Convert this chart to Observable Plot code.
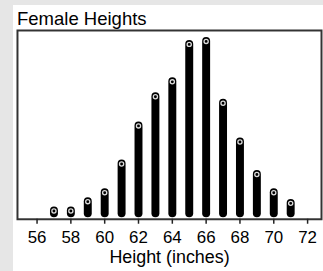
<!DOCTYPE html>
<html>
<head>
<meta charset="utf-8">
<script src="https://cdn.jsdelivr.net/npm/d3@7"></script>
<script src="https://cdn.jsdelivr.net/npm/@observablehq/plot@0.6"></script>
<style>
  html, body { margin: 0; padding: 0; overflow: hidden; }
  body { width: 323px; height: 271px; background: #e6e6e6; position: relative; font-family: "Liberation Sans", Arial, sans-serif; }
  #panel { position: absolute; left: 13px; top: 5px; width: 310px; height: 266px; background: #fff; overflow: hidden; }
  #title { position: absolute; left: 4px; top: 4px; font-size: 18.5px; line-height: 20px; color: #000; white-space: nowrap; }
  #chart { position: absolute; left: 0; top: 24px; }
</style>
</head>
<body>
<div id="panel">
  <div id="title">Female Heights</div>
  <div id="chart"></div>
</div>
<script>
const heights = [57, 58, 59, 60, 61, 62, 63, 64, 65, 66, 67, 68, 69, 70, 71];
const percents = [0.3, 0.3, 1.3, 2.26, 5.35, 9.43, 12.56, 14.16, 18.18, 18.5, 11.86, 7.7, 4.21, 2.26, 1.12];
const xTicks = [56, 58, 60, 62, 64, 66, 68, 70, 72];
const xLabel = "Height (inches)";

const data = heights.map((h, i) => ({height: h, pct: percents[i]}));

const chart = Plot.plot({
  width: 312,
  height: 242,
  marginLeft: 4,
  marginRight: 2,
  marginTop: 1,
  marginBottom: 51,
  style: {fontFamily: "Liberation Sans, Arial, sans-serif", fontSize: "17px", background: "transparent", color: "#000"},
  x: {domain: [56, 72], insetLeft: 19.7, insetRight: 14},
  y: {domain: [0, 19.67], insetBottom: 5.5, axis: null},
  marks: [
    Plot.frame({stroke: "#333", strokeWidth: 2}),
    Plot.axisX({
      ticks: xTicks, tickSize: 5, tickPadding: 7, fontSize: 17,
      stroke: "#222", strokeWidth: 1.5,
      label: null, tickFormat: d => String(d)
    }),
    Plot.axisX({
      ticks: [], fontSize: 18,
      label: xLabel, labelArrow: "none", labelAnchor: "center", labelOffset: 44
    }),
    Plot.ruleX(data, {x: "height", y1: 0, y2: "pct", stroke: "#000", strokeWidth: 8, strokeLinecap: "round"}),
    Plot.dot(data, {x: "height", y: "pct", r: 2.1, fill: "none", stroke: "#ddd", strokeWidth: 1.3})
  ]
});
document.getElementById("chart").appendChild(chart);
</script>
</body>
</html>
